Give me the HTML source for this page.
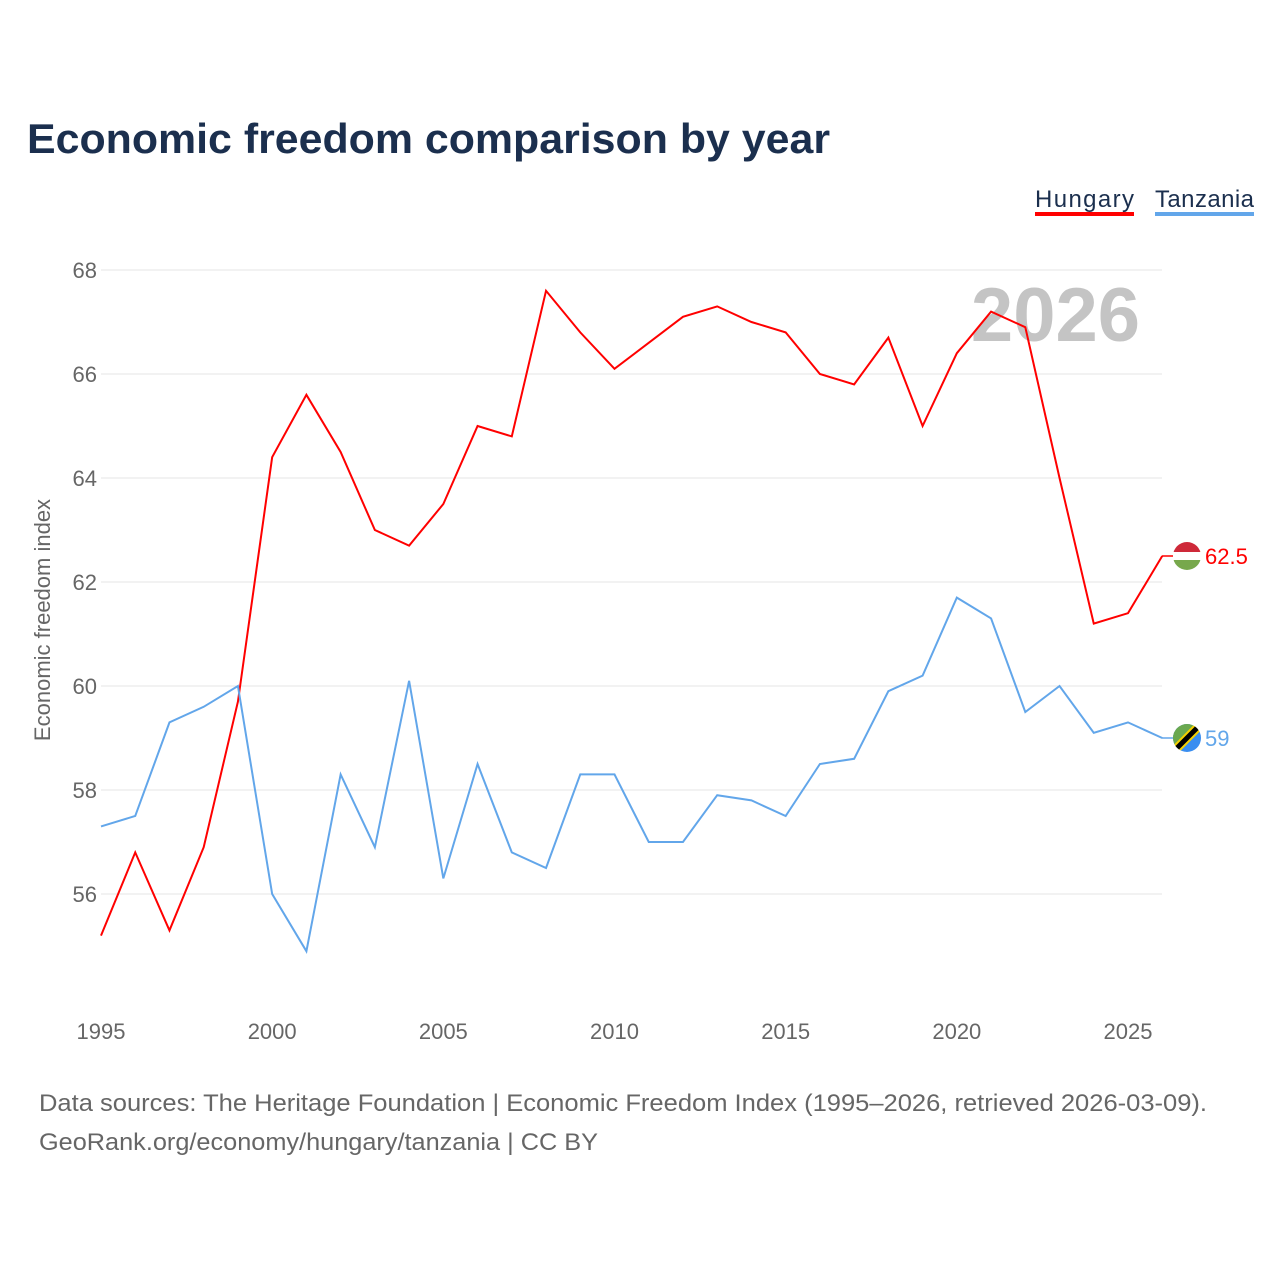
<!DOCTYPE html>
<html><head><meta charset="utf-8"><style>
body{margin:0;background:#fff;font-family:"Liberation Sans",sans-serif}
svg text{font-family:"Liberation Sans",sans-serif}
</style></head><body>
<svg id="chart" width="1280" height="1280" viewBox="0 0 1280 1280">
<defs><clipPath id="hclip"><circle id="hc" cx="1187" cy="556" r="14"/></clipPath><clipPath id="tclip"><circle id="tc" cx="1187" cy="738" r="14"/></clipPath></defs>
<text x="27" y="153" font-size="42" font-weight="bold" fill="#1b2f4e" textLength="803" lengthAdjust="spacingAndGlyphs">Economic freedom comparison by year</text>
<g>
<text x="1035" y="207" font-size="24" fill="#1b2f4e" textLength="99">Hungary</text>
<rect x="1035" y="212" width="99" height="4" fill="#ff0000"/>
<text x="1155" y="207" font-size="24" fill="#1b2f4e" textLength="99">Tanzania</text>
<rect x="1155" y="212" width="99" height="4" fill="#62a6ea"/>
</g>
<text x="1140" y="341" font-size="76" font-weight="bold" fill="#c4c4c4" text-anchor="end">2026</text>
<g id="grid"></g>
<g id="xt"></g>
<text transform="translate(50,620) rotate(-90)" font-size="22" fill="#666" text-anchor="middle">Economic freedom index</text>
<g id="lines"></g>
<text x="39" y="1111" font-size="24" fill="#666" textLength="1168" lengthAdjust="spacingAndGlyphs">Data sources: The Heritage Foundation | Economic Freedom Index (1995–2026, retrieved 2026-03-09).</text>
<text x="39" y="1150" font-size="24" fill="#666" textLength="559" lengthAdjust="spacingAndGlyphs">GeoRank.org/economy/hungary/tanzania | CC BY</text>
</svg>
<script>
const years=[1995,1996,1997,1998,1999,2000,2001,2002,2003,2004,2005,2006,2007,2008,2009,2010,2011,2012,2013,2014,2015,2016,2017,2018,2019,2020,2021,2022,2023,2024,2025,2026];
const hungary=[55.2,56.8,55.3,56.9,59.7,64.4,65.6,64.5,63.0,62.7,63.5,65.0,64.8,67.6,66.8,66.1,66.6,67.1,67.3,67.0,66.8,66.0,65.8,66.7,65.0,66.4,67.2,66.9,64.0,61.2,61.4,62.5];
const tanzania=[57.3,57.5,59.3,59.6,60.0,56.0,54.9,58.3,56.9,60.1,56.3,58.5,56.8,56.5,58.3,58.3,57.0,57.0,57.9,57.8,57.5,58.5,58.6,59.9,60.2,61.7,61.3,59.5,60.0,59.1,59.3,59.0];
const yTicks=[56,58,60,62,64,66,68];
const xTicks=[1995,2000,2005,2010,2015,2020,2025];
const NS="http://www.w3.org/2000/svg";
const X=y=>101+(y-1995)*(1128-101)/30;
const Y=v=>270+(68-v)*52;
function mk(t,a,p){const e=document.createElementNS(NS,t);for(const k in a)e.setAttribute(k,a[k]);p.appendChild(e);return e;}
const grid=document.getElementById('grid');
yTicks.forEach(v=>{
 const l=mk('line',{x1:101,x2:1162,y1:Y(v),y2:Y(v),stroke:'#e6e6e6','stroke-width':1},grid);
 
 
 const t=mk('text',{x:97,y:Y(v)+8,'font-size':22,fill:'#666','text-anchor':'end'},grid);
 t.textContent=v;
 
 
});
const xt=document.getElementById('xt');
xTicks.forEach(v=>{
 const t=mk('text',{x:X(v),y:1039,'font-size':22,fill:'#666','text-anchor':'middle'},xt);
 t.textContent=v;
 
 
});
const lines=document.getElementById('lines');
function series(vals,color,name,label){
 const p=mk('polyline',{points:vals.map((v,i)=>X(years[i])+','+Y(v)).join(' '),fill:'none',stroke:color,'stroke-width':2},lines);
 
 
 const last=vals[vals.length-1],ly=Y(last);
 const s=mk('line',{x1:1162,x2:1173,y1:ly,y2:ly,stroke:color,'stroke-width':1.5},lines);
 
 
 const t=mk('text',{x:1205,y:ly+8,'font-size':22,fill:color},lines);
 t.textContent=label;
 
 
 return ly;
}
const hy=series(hungary,'#ff0000','hungary','62.5');
const ty=series(tanzania,'#62a6ea','tanzania','59');
document.getElementById('hc').setAttribute('cy',hy);
document.getElementById('tc').setAttribute('cy',ty);
const hg=mk('g',{'clip-path':'url(#hclip)'},lines);


mk('rect',{x:1173,y:hy-14,width:28,height:10,fill:'#ce2939'},hg);
mk('rect',{x:1173,y:hy-4,width:28,height:8,fill:'#fff'},hg);
mk('rect',{x:1173,y:hy+4,width:28,height:10,fill:'#77a84c'},hg);
const tg=mk('g',{'clip-path':'url(#tclip)'},lines);


mk('rect',{x:1173,y:ty-14,width:28,height:28,fill:'#3a8ef0'},tg);
mk('path',{d:`M1173 ${ty+14} L1173 ${ty-14} L1201 ${ty-14}z`,fill:'#6aa84f'},tg);
mk('line',{x1:1173,y1:ty+14,x2:1201,y2:ty-14,stroke:'#f5d000','stroke-width':9},tg);
mk('line',{x1:1173,y1:ty+14,x2:1201,y2:ty-14,stroke:'#000','stroke-width':5},tg);
</script>
</body></html>
